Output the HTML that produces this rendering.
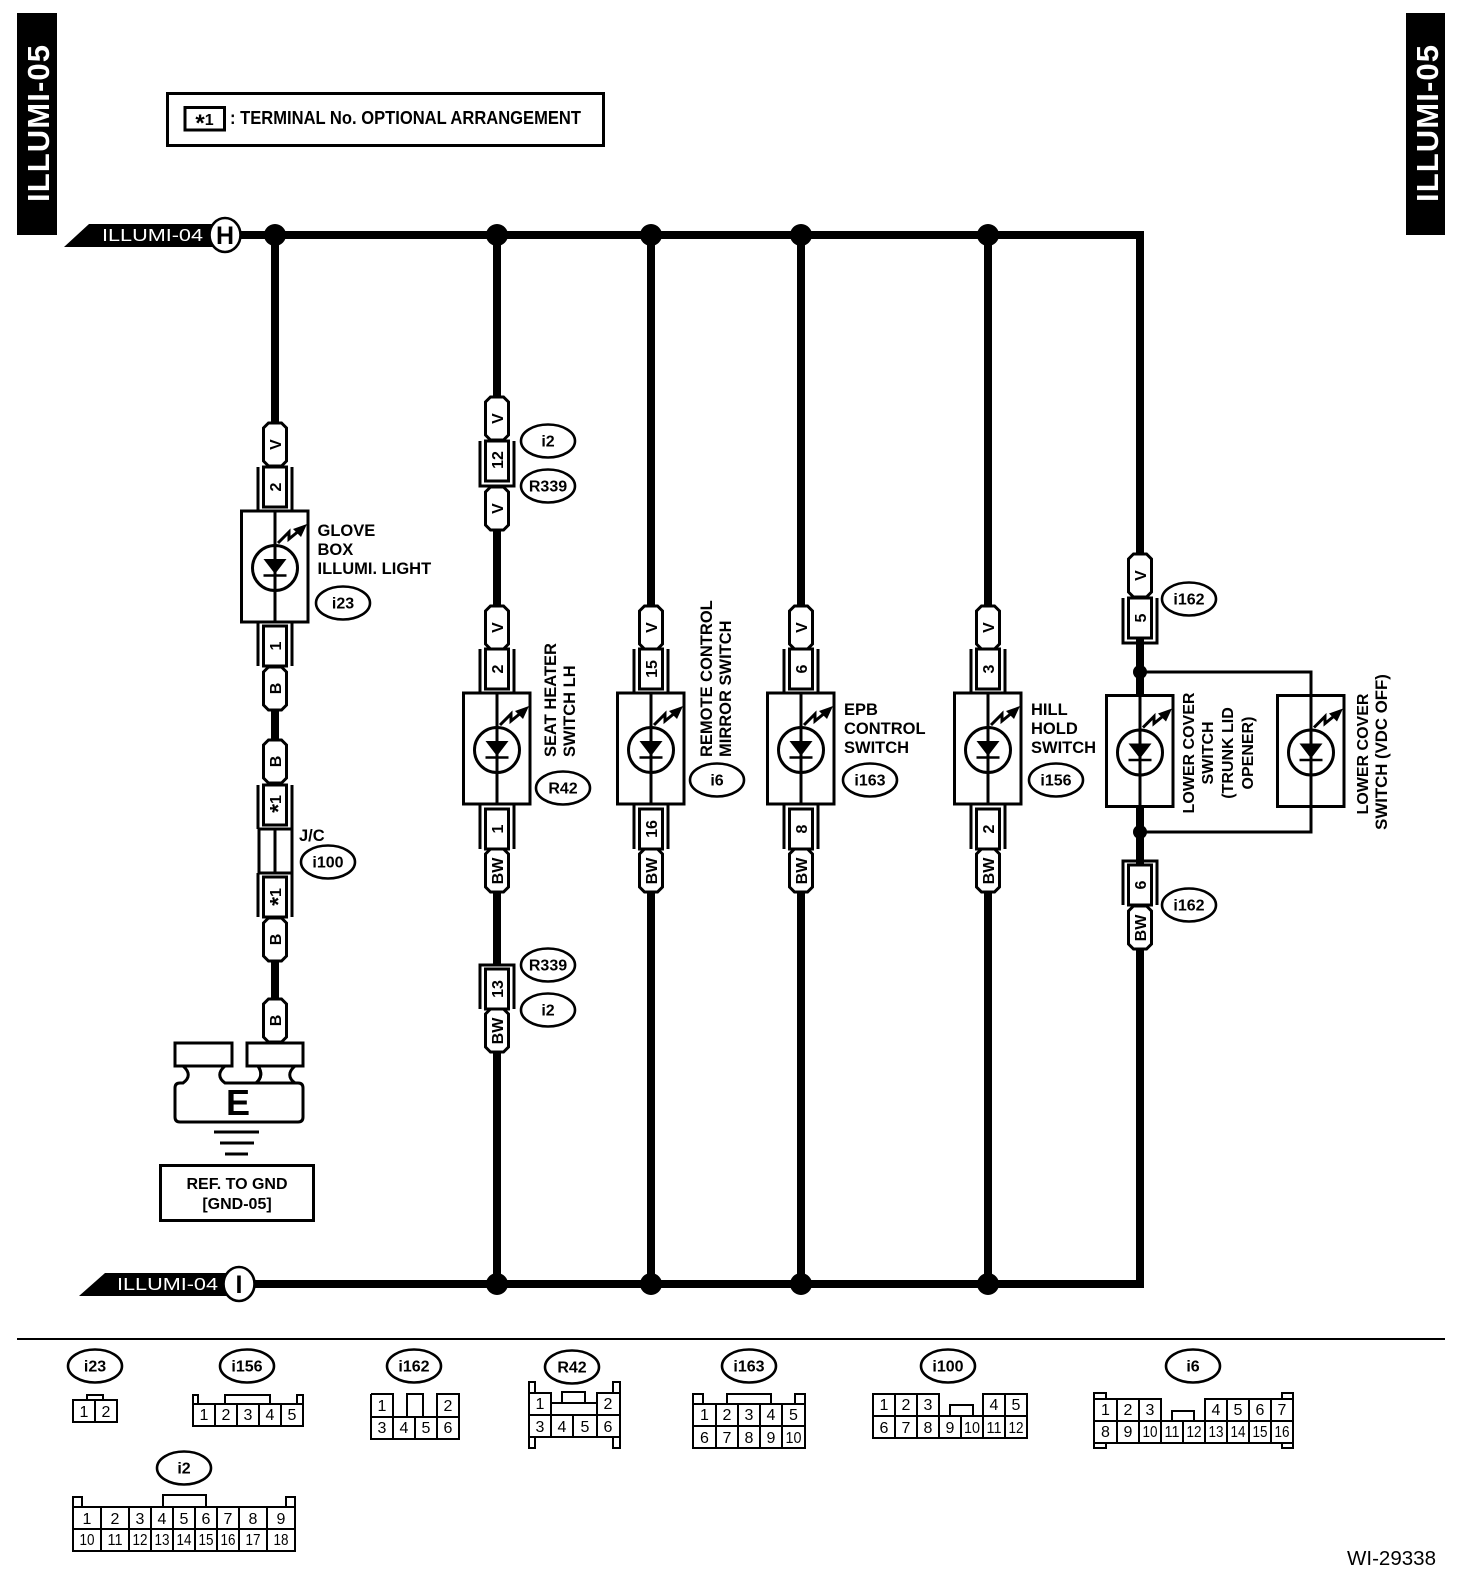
<!DOCTYPE html>
<html><head><meta charset="utf-8"><title>ILLUMI-05</title>
<style>
html,body{margin:0;padding:0;background:#fff}
svg{display:block}
text{font-family:"Liberation Sans",sans-serif;fill:#000}
.b{font-weight:bold;font-size:16.5px}
.e{font-weight:bold;font-size:16px;text-anchor:middle}
.p{font-weight:bold;font-size:16px;text-anchor:middle}
.c{font-size:16px;text-anchor:middle}
.w{stroke:#000;stroke-width:8;fill:none}
.l{stroke:#000;stroke-width:2;fill:none}
ellipse{stroke-width:2.6}
</style></head><body>
<svg xmlns="http://www.w3.org/2000/svg" width="1472" height="1588" viewBox="0 0 1472 1588">
<defs>
<path id="pill" d="M-6.5,0H6.5L11.5,5V38L6.5,43H-6.5L-11.5,38V5Z" fill="#fff" stroke="#000" stroke-width="3"/>
<g id="pinT" fill="none" stroke="#000" stroke-width="3"><path d="M-17,0V44M17,0V44"/><rect x="-11.5" y="0" width="23" height="40" fill="#fff"/></g>
<g id="pinB" fill="none" stroke="#000" stroke-width="3"><path d="M-17,0V44M17,0V44"/><rect x="-11.5" y="4" width="23" height="40" fill="#fff"/></g>
<g id="pinU" fill="none" stroke="#000" stroke-width="3"><path d="M-17,0V45H17V0"/><rect x="-11.5" y="0" width="23" height="40" fill="#fff"/></g>
<g id="pinC" fill="none" stroke="#000" stroke-width="3"><path d="M-17,44V0H17V44"/><rect x="-11.5" y="4" width="23" height="40" fill="#fff"/></g>
<g id="led">
<rect x="-33.5" y="0" width="66.5" height="111" fill="#fff" stroke="#000" stroke-width="3"/>
<circle cx="0" cy="57" r="22.5" fill="none" stroke="#000" stroke-width="3"/>
<path d="M0,0V111" stroke="#000" stroke-width="3"/>
<path d="M-11.5,48H11.5L0,63Z" fill="#000"/>
<path d="M-11.5,64.5H11.5" stroke="#000" stroke-width="2.5"/>
<path d="M3,32L14,21L14,28L25,19" fill="none" stroke="#000" stroke-width="3"/>
<path d="M32,13L18,18L26,26Z" fill="#000"/>
</g>
</defs>

<!-- side tabs -->
<rect x="17" y="13" width="40" height="222" fill="#000"/>
<rect x="1406" y="13" width="39" height="222" fill="#000"/>
<text transform="translate(49,202) rotate(-90)" font-weight="bold" font-size="31" style="fill:#fff" textLength="157">ILLUMI-05</text>
<text transform="translate(1438,202) rotate(-90)" font-weight="bold" font-size="31" style="fill:#fff" textLength="157">ILLUMI-05</text>

<!-- legend -->
<rect x="167.5" y="93.5" width="436" height="52" fill="none" stroke="#000" stroke-width="3"/>
<rect x="185" y="107.5" width="39.5" height="22.5" fill="none" stroke="#000" stroke-width="3"/>
<text x="204.5" y="125" class="e" font-size="17"><tspan font-size="24" dy="6">*</tspan><tspan dy="-6">1</tspan></text>
<text x="230" y="124" font-weight="bold" font-size="18" textLength="351" lengthAdjust="spacingAndGlyphs">: TERMINAL No. OPTIONAL ARRANGEMENT</text>

<!-- buses -->
<path d="M240,235H1140V1284H250" class="w" stroke-linejoin="miter"/>

<!-- H tag -->
<path d="M64,247L89,224H215V247Z" fill="#000"/>
<text x="102" y="241" font-size="17.5" style="fill:#fff" textLength="101" lengthAdjust="spacingAndGlyphs">ILLUMI-04</text>
<ellipse cx="225" cy="235" rx="15.5" ry="17" fill="#fff" stroke="#000" stroke-width="3"/>
<text x="225" y="244" font-weight="bold" font-size="25" text-anchor="middle">H</text>
<!-- I tag -->
<path d="M79,1296L105,1273H230V1296Z" fill="#000"/>
<text x="117" y="1290" font-size="17.5" style="fill:#fff" textLength="101" lengthAdjust="spacingAndGlyphs">ILLUMI-04</text>
<ellipse cx="239" cy="1284" rx="15.5" ry="17" fill="#fff" stroke="#000" stroke-width="3"/>
<text x="239" y="1293" font-weight="bold" font-size="25" text-anchor="middle">I</text>

<!-- wires -->
<path class="w" d="M275,235V423M275,710V740M275,962V999M497,235V397M497,529V606M497,893V965M497,1053V1284M651,235V606M651,893V1284M801,235V606M801,893V1284M988,235V606M988,893V1284M1140,235V553M1140,950V1284"/>
<path d="M1140,643V861" stroke="#000" stroke-width="3.5"/>
<path d="M1140,672H1311V832H1140" fill="none" stroke="#000" stroke-width="3"/>

<!-- junctions -->
<g fill="#000">
<circle cx="275" cy="235" r="11"/><circle cx="497" cy="235" r="11"/><circle cx="651" cy="235" r="11"/><circle cx="801" cy="235" r="11"/><circle cx="988" cy="235" r="11"/>
<circle cx="497" cy="1284" r="11"/><circle cx="651" cy="1284" r="11"/><circle cx="801" cy="1284" r="11"/><circle cx="988" cy="1284" r="11"/>
</g>

<!-- column 1 -->
<use href="#pill" x="275" y="423"/><text class="p" transform="translate(281,444.5) rotate(-90)">V</text>
<use href="#pinT" x="275" y="467"/><text class="p" transform="translate(281,487) rotate(-90)">2</text>
<use href="#led" x="275" y="511"/>
<use href="#pinB" x="275" y="622"/><text class="p" transform="translate(281,646) rotate(-90)">1</text>
<use href="#pill" x="275" y="667"/><text class="p" transform="translate(281,688.5) rotate(-90)">B</text>
<use href="#pill" x="275" y="740"/><text class="p" transform="translate(281,761.5) rotate(-90)">B</text>
<use href="#pinT" x="275" y="785"/><text class="p" transform="translate(281,804) rotate(-90)"><tspan font-size="23" dy="5">*</tspan><tspan dy="-5">1</tspan></text>
<rect x="259" y="829" width="33" height="44" fill="#fff" stroke="#000" stroke-width="3"/><path d="M275,829V873" stroke="#000" stroke-width="3"/>
<use href="#pinB" x="275" y="873"/><text class="p" transform="translate(281,897) rotate(-90)"><tspan font-size="23" dy="5">*</tspan><tspan dy="-5">1</tspan></text>
<use href="#pill" x="275" y="918"/><text class="p" transform="translate(281,939.5) rotate(-90)">B</text>
<use href="#pill" x="275" y="999"/><text class="p" transform="translate(281,1020.5) rotate(-90)">B</text>

<!-- ground -->
<g fill="#fff" stroke="#000" stroke-width="3">
<path d="M183,1066C190,1072 190,1078 183,1083H180Q175,1083 175,1088V1117Q175,1122 180,1122H298Q303,1122 303,1117V1088Q303,1083 298,1083H295C288,1078 288,1072 295,1066H258C262,1072 262,1078 256,1083H225C218,1078 218,1072 225,1066Z"/>
<rect x="175" y="1043" width="57" height="23"/>
<rect x="247" y="1043" width="56" height="23"/>
</g>
<path d="M258,1066C262,1072 262,1078 256,1083H295" fill="none" stroke="#000" stroke-width="3"/>
<text x="238" y="1115" font-weight="bold" font-size="36" text-anchor="middle">E</text>
<path d="M214,1132H259M220,1143H254M225,1154H248" stroke="#000" stroke-width="3"/>
<rect x="160.5" y="1165.5" width="153" height="55" fill="none" stroke="#000" stroke-width="3"/>
<text x="237" y="1189" class="e">REF. TO GND</text>
<text x="237" y="1209" class="e">[GND-05]</text>

<!-- labels col 1 -->
<text x="317.5" y="536" class="b">GLOVE</text>
<text x="317.5" y="555" class="b">BOX</text>
<text x="317.5" y="574" class="b">ILLUMI. LIGHT</text>
<ellipse cx="343" cy="603" rx="27" ry="16.5" fill="none" stroke="#000"/><text x="343" y="608.5" class="e">i23</text>
<text x="299" y="841" class="b" font-size="15">J/C</text>
<ellipse cx="328" cy="862" rx="27" ry="16.5" fill="none" stroke="#000"/><text x="328" y="867.5" class="e">i100</text>

<!-- column 2 -->
<use href="#pill" x="497" y="397"/><text class="p" transform="translate(503,418.5) rotate(-90)">V</text>
<use href="#pinU" x="497" y="441"/><text class="p" transform="translate(503,460) rotate(-90)">12</text>
<use href="#pill" x="497" y="487"/><text class="p" transform="translate(503,508.5) rotate(-90)">V</text>
<use href="#pill" x="497" y="606"/><text class="p" transform="translate(503,627.5) rotate(-90)">V</text>
<use href="#pinT" x="497" y="649"/><text class="p" transform="translate(503,669) rotate(-90)">2</text>
<use href="#led" x="497" y="693"/>
<use href="#pinB" x="497" y="805"/><text class="p" transform="translate(503,829) rotate(-90)">1</text>
<use href="#pill" x="497" y="849"/><text class="p" transform="translate(503,871) rotate(-90)">BW</text>
<use href="#pinC" x="497" y="965"/><text class="p" transform="translate(503,989) rotate(-90)">13</text>
<use href="#pill" x="497" y="1009"/><text class="p" transform="translate(503,1031) rotate(-90)">BW</text>
<ellipse cx="548" cy="441" rx="27" ry="16.5" fill="none" stroke="#000"/><text x="548" y="446.5" class="e">i2</text>
<ellipse cx="548" cy="486" rx="27" ry="16.5" fill="none" stroke="#000"/><text x="548" y="491.5" class="e">R339</text>
<ellipse cx="548" cy="965" rx="27" ry="16.5" fill="none" stroke="#000"/><text x="548" y="970.5" class="e">R339</text>
<ellipse cx="548" cy="1010" rx="27" ry="16.5" fill="none" stroke="#000"/><text x="548" y="1015.5" class="e">i2</text>
<ellipse cx="563" cy="788" rx="27" ry="16.5" fill="none" stroke="#000"/><text x="563" y="793.5" class="e">R42</text>
<text class="b" transform="translate(556,757) rotate(-90)">SEAT HEATER</text>
<text class="b" transform="translate(575,757) rotate(-90)">SWITCH LH</text>

<!-- column 3 -->
<use href="#pill" x="651" y="606"/><text class="p" transform="translate(657,627.5) rotate(-90)">V</text>
<use href="#pinT" x="651" y="649"/><text class="p" transform="translate(657,669) rotate(-90)">15</text>
<use href="#led" x="651" y="693"/>
<use href="#pinB" x="651" y="805"/><text class="p" transform="translate(657,829) rotate(-90)">16</text>
<use href="#pill" x="651" y="849"/><text class="p" transform="translate(657,871) rotate(-90)">BW</text>
<text class="b" transform="translate(712,757) rotate(-90)">REMOTE CONTROL</text>
<text class="b" transform="translate(731,757) rotate(-90)">MIRROR SWITCH</text>
<ellipse cx="717" cy="780" rx="27" ry="16.5" fill="none" stroke="#000"/><text x="717" y="785.5" class="e">i6</text>

<!-- column 4 -->
<use href="#pill" x="801" y="606"/><text class="p" transform="translate(807,627.5) rotate(-90)">V</text>
<use href="#pinT" x="801" y="649"/><text class="p" transform="translate(807,669) rotate(-90)">6</text>
<use href="#led" x="801" y="693"/>
<use href="#pinB" x="801" y="805"/><text class="p" transform="translate(807,829) rotate(-90)">8</text>
<use href="#pill" x="801" y="849"/><text class="p" transform="translate(807,871) rotate(-90)">BW</text>
<text x="844" y="715" class="b">EPB</text>
<text x="844" y="734" class="b">CONTROL</text>
<text x="844" y="753" class="b">SWITCH</text>
<ellipse cx="870" cy="780" rx="27" ry="16.5" fill="none" stroke="#000"/><text x="870" y="785.5" class="e">i163</text>

<!-- column 5 -->
<use href="#pill" x="988" y="606"/><text class="p" transform="translate(994,627.5) rotate(-90)">V</text>
<use href="#pinT" x="988" y="649"/><text class="p" transform="translate(994,669) rotate(-90)">3</text>
<use href="#led" x="988" y="693"/>
<use href="#pinB" x="988" y="805"/><text class="p" transform="translate(994,829) rotate(-90)">2</text>
<use href="#pill" x="988" y="849"/><text class="p" transform="translate(994,871) rotate(-90)">BW</text>
<text x="1031" y="715" class="b">HILL</text>
<text x="1031" y="734" class="b">HOLD</text>
<text x="1031" y="753" class="b">SWITCH</text>
<ellipse cx="1056" cy="780" rx="27" ry="16.5" fill="none" stroke="#000"/><text x="1056" y="785.5" class="e">i156</text>

<!-- column 6 -->
<use href="#pill" x="1140" y="554"/><text class="p" transform="translate(1146,575.5) rotate(-90)">V</text>
<use href="#pinU" x="1140" y="598"/><text class="p" transform="translate(1146,618) rotate(-90)">5</text>
<use href="#led" x="1140" y="695.5"/>
<use href="#led" x="1311" y="695.5"/>
<g fill="#000"><circle cx="1140" cy="672" r="7"/><circle cx="1140" cy="832" r="7"/></g>
<use href="#pinC" x="1140" y="861"/><text class="p" transform="translate(1146,885) rotate(-90)">6</text>
<use href="#pill" x="1140" y="906"/><text class="p" transform="translate(1146,928) rotate(-90)">BW</text>
<ellipse cx="1189" cy="599" rx="27" ry="16.5" fill="none" stroke="#000"/><text x="1189" y="604.5" class="e">i162</text>
<ellipse cx="1189" cy="905" rx="27" ry="16.5" fill="none" stroke="#000"/><text x="1189" y="910.5" class="e">i162</text>
<text class="e" transform="translate(1194,753) rotate(-90)">LOWER COVER</text>
<text class="e" transform="translate(1213,753) rotate(-90)">SWITCH</text>
<text class="e" transform="translate(1233,753) rotate(-90)">(TRUNK LID</text>
<text class="e" transform="translate(1253,753) rotate(-90)">OPENER)</text>
<text class="e" transform="translate(1368,754) rotate(-90)">LOWER COVER</text>
<text class="e" style="font-size:16.8px" transform="translate(1387,752) rotate(-90)">SWITCH (VDC OFF)</text>

<!-- separator -->
<path d="M17,1339H1445" stroke="#000" stroke-width="2"/>

<!-- connector faces: i23 -->
<ellipse cx="95" cy="1366" rx="27" ry="16.5" fill="none" stroke="#000"/><text x="95" y="1371.5" class="e">i23</text>
<path class="l" d="M87,1400V1395H103V1400"/>
<path class="l" d="M73,1400H117V1422H73ZM95,1400V1422"/>
<text x="84" y="1417" class="c">1</text><text x="106" y="1417" class="c">2</text>

<!-- i156 -->
<ellipse cx="247" cy="1366" rx="27" ry="16.5" fill="none" stroke="#000"/><text x="247" y="1371.5" class="e">i156</text>
<path class="l" d="M193,1404V1395H198V1404M297,1404V1395H303V1404M225,1404V1395H270V1404"/>
<path class="l" d="M193,1404H303V1426H193ZM215,1404V1426M237,1404V1426M259,1404V1426M281,1404V1426"/>
<text x="204" y="1420" class="c">1</text><text x="226" y="1420" class="c">2</text><text x="248" y="1420" class="c">3</text><text x="270" y="1420" class="c">4</text><text x="292" y="1420" class="c">5</text>

<!-- i162 -->
<ellipse cx="414" cy="1366" rx="27" ry="16.5" fill="none" stroke="#000"/><text x="414" y="1371.5" class="e">i162</text>
<path class="l" d="M371,1394H393V1417M371,1394V1439H459V1394H437V1417M371,1417H459M393,1417V1439M415,1417V1439M437,1417V1439M407,1417V1394H423V1417"/>
<text x="382" y="1411" class="c">1</text><text x="448" y="1411" class="c">2</text>
<text x="382" y="1433" class="c">3</text><text x="404" y="1433" class="c">4</text><text x="426" y="1433" class="c">5</text><text x="448" y="1433" class="c">6</text>

<!-- R42 -->
<ellipse cx="572" cy="1367" rx="27" ry="16.5" fill="none" stroke="#000"/><text x="572" y="1372.5" class="e">R42</text>
<path class="l" d="M529,1393H551V1415M529,1393V1437H620V1393H597V1415M529,1415H620M551,1415V1437M573,1415V1437M597,1415V1437M551,1403H597M562,1403V1392H585V1403"/>
<path class="l" d="M529,1393V1382H535V1393M613,1393V1382H620V1393M529,1437V1448H535V1437M613,1437V1448H620V1437"/>
<text x="540" y="1409" class="c">1</text><text x="608" y="1409" class="c">2</text>
<text x="540" y="1432" class="c">3</text><text x="562" y="1432" class="c">4</text><text x="585" y="1432" class="c">5</text><text x="608" y="1432" class="c">6</text>

<!-- i163 -->
<ellipse cx="749" cy="1366" rx="27" ry="16.5" fill="none" stroke="#000"/><text x="749" y="1371.5" class="e">i163</text>
<path class="l" d="M693,1404V1394H703V1404M795,1404V1394H805V1404M727,1404V1394H771V1404"/>
<path class="l" d="M693,1404H805V1448H693ZM693,1426H805M716,1404V1448M738,1404V1448M760,1404V1448M782,1404V1448"/>
<text x="704.5" y="1420" class="c">1</text><text x="727" y="1420" class="c">2</text><text x="749" y="1420" class="c">3</text><text x="771" y="1420" class="c">4</text><text x="793.5" y="1420" class="c">5</text>
<text x="704.5" y="1443" class="c">6</text><text x="727" y="1443" class="c">7</text><text x="749" y="1443" class="c">8</text><text x="771" y="1443" class="c">9</text><text x="793.5" y="1443" class="c" textLength="16" lengthAdjust="spacingAndGlyphs">10</text>

<!-- i100 -->
<ellipse cx="948" cy="1366" rx="27" ry="16.5" fill="none" stroke="#000"/><text x="948" y="1371.5" class="e">i100</text>
<path class="l" d="M873,1416V1394H939V1416M983,1416V1394H1027V1416M873,1416H1027V1438H873ZM895,1394V1438M917,1394V1438M939,1416V1438M961,1416V1438M983,1416V1438M1005,1394V1438M950,1416V1405H973V1416"/>
<text x="884" y="1410" class="c">1</text><text x="906" y="1410" class="c">2</text><text x="928" y="1410" class="c">3</text><text x="994" y="1410" class="c">4</text><text x="1016" y="1410" class="c">5</text>
<text x="884" y="1433" class="c">6</text><text x="906" y="1433" class="c">7</text><text x="928" y="1433" class="c">8</text><text x="950" y="1433" class="c">9</text><text x="972" y="1433" class="c" textLength="16" lengthAdjust="spacingAndGlyphs">10</text><text x="994" y="1433" class="c" textLength="15" lengthAdjust="spacingAndGlyphs">11</text><text x="1016" y="1433" class="c" textLength="15" lengthAdjust="spacingAndGlyphs">12</text>

<!-- i6 -->
<ellipse cx="1193" cy="1366" rx="27" ry="16.5" fill="none" stroke="#000"/><text x="1193" y="1371.5" class="e">i6</text>
<path class="l" d="M1094,1421V1399H1161V1421M1205,1421V1399H1293V1421M1094,1421H1293V1443H1094ZM1117,1399V1443M1139,1399V1443M1161,1421V1443M1183,1421V1443M1205,1421V1443M1227,1399V1443M1249,1399V1443M1271,1399V1443M1172,1421V1411H1194V1421"/>
<path class="l" d="M1094,1399V1393H1106V1399M1282,1399V1393H1293V1399M1094,1443V1448H1106V1443M1282,1443V1448H1293V1443"/>
<text x="1105.5" y="1415" class="c">1</text><text x="1128" y="1415" class="c">2</text><text x="1150" y="1415" class="c">3</text><text x="1216" y="1415" class="c">4</text><text x="1238" y="1415" class="c">5</text><text x="1260" y="1415" class="c">6</text><text x="1282" y="1415" class="c">7</text>
<text x="1105.5" y="1437" class="c">8</text><text x="1128" y="1437" class="c">9</text><text x="1150" y="1437" class="c" textLength="15" lengthAdjust="spacingAndGlyphs">10</text><text x="1172" y="1437" class="c" textLength="15" lengthAdjust="spacingAndGlyphs">11</text><text x="1194" y="1437" class="c" textLength="15" lengthAdjust="spacingAndGlyphs">12</text><text x="1216" y="1437" class="c" textLength="15" lengthAdjust="spacingAndGlyphs">13</text><text x="1238" y="1437" class="c" textLength="15" lengthAdjust="spacingAndGlyphs">14</text><text x="1260" y="1437" class="c" textLength="15" lengthAdjust="spacingAndGlyphs">15</text><text x="1282" y="1437" class="c" textLength="15" lengthAdjust="spacingAndGlyphs">16</text>

<!-- i2 -->
<ellipse cx="184" cy="1468" rx="27" ry="16.5" fill="none" stroke="#000"/><text x="184" y="1473.5" class="e">i2</text>
<path class="l" d="M73,1507V1497H82V1507M286,1507V1497H295V1507M163,1507V1495H206V1507"/>
<path class="l" d="M73,1507H295V1551H73ZM73,1529H295M101,1507V1551M129,1507V1551M151,1507V1551M173,1507V1551M195,1507V1551M217,1507V1551M239,1507V1551M267,1507V1551"/>
<text x="87" y="1524" class="c">1</text><text x="115" y="1524" class="c">2</text><text x="140" y="1524" class="c">3</text><text x="162" y="1524" class="c">4</text><text x="184" y="1524" class="c">5</text><text x="206" y="1524" class="c">6</text><text x="228" y="1524" class="c">7</text><text x="253" y="1524" class="c">8</text><text x="281" y="1524" class="c">9</text>
<text x="87" y="1545" class="c" textLength="15" lengthAdjust="spacingAndGlyphs">10</text><text x="115" y="1545" class="c" textLength="15" lengthAdjust="spacingAndGlyphs">11</text><text x="140" y="1545" class="c" textLength="15" lengthAdjust="spacingAndGlyphs">12</text><text x="162" y="1545" class="c" textLength="15" lengthAdjust="spacingAndGlyphs">13</text><text x="184" y="1545" class="c" textLength="15" lengthAdjust="spacingAndGlyphs">14</text><text x="206" y="1545" class="c" textLength="15" lengthAdjust="spacingAndGlyphs">15</text><text x="228" y="1545" class="c" textLength="15" lengthAdjust="spacingAndGlyphs">16</text><text x="253" y="1545" class="c" textLength="15" lengthAdjust="spacingAndGlyphs">17</text><text x="281" y="1545" class="c" textLength="15" lengthAdjust="spacingAndGlyphs">18</text>

<text x="1347" y="1565" font-size="20" textLength="89" lengthAdjust="spacingAndGlyphs">WI-29338</text>
</svg>
</body></html>
